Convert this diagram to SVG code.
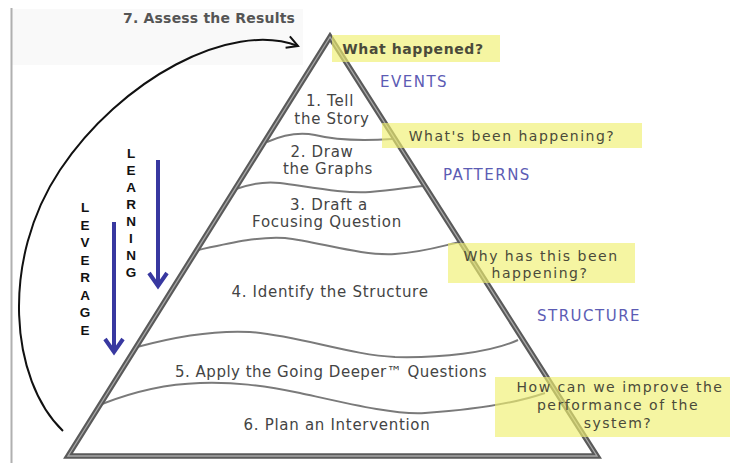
<svg xmlns="http://www.w3.org/2000/svg" width="730" height="463" viewBox="0 0 730 463">
<defs>
<style>
.edge{fill:none;stroke:#5a5a5a;stroke-width:5.5;stroke-linejoin:miter}
.edgein{fill:none;stroke:#a8a8a8;stroke-width:1.3}
.wave{fill:none;stroke:#7a7a7a;stroke-width:2}
.step{font-family:"DejaVu Sans",sans-serif;font-size:15px;fill:#444;text-anchor:middle;letter-spacing:0.7px}
.q{font-family:"DejaVu Sans",sans-serif;font-size:14px;fill:#4a4a3a;text-anchor:middle;letter-spacing:1.5px}
.box{fill:#f0f070;fill-opacity:0.65}
.lvl{font-family:"DejaVu Sans",sans-serif;font-size:15px;fill:#5c5cb4;letter-spacing:1.5px}
.vert{font-family:"Liberation Sans",sans-serif;font-size:13.5px;font-weight:bold;fill:#111;text-anchor:middle}
.blue{fill:none;stroke:#3838a0;stroke-width:4}
</style>
<marker id="ah" markerUnits="userSpaceOnUse" markerWidth="16" markerHeight="16" refX="13" refY="8" orient="auto">
<path d="M2,2 L13,8 L2,14" fill="none" stroke="#111" stroke-width="2"/>
</marker>
</defs>
<rect x="12" y="9" width="291" height="56" fill="#f9f9f9"/>
<line x1="11.5" y1="8" x2="11.5" y2="463" stroke="#b0b0b0" stroke-width="2"/>

<g id="connectors">
<path d="M63 431 C10 380, 0 260, 60 170 C120 80, 230 20, 298 46" fill="none" stroke="#111" stroke-width="2" marker-end="url(#ah)"/>
<g id="learning-arrow">
<line class="blue" x1="158" y1="160" x2="158" y2="285"/>
<polyline class="blue" points="149,273 158,286 167,273"/>
</g>
<g id="leverage-arrow">
<line class="blue" x1="114" y1="222" x2="114" y2="352"/>
<polyline class="blue" points="105,339 114,352 123,339"/>
</g>
</g>

<g id="pyramid">
<path class="wave" d="M267 142 C285 134, 300 132, 315 135 C335 140, 360 141, 392 139"/>
<path class="wave" d="M236 189 C250 184, 265 181, 280 183 C310 187, 345 194, 370 192 C395 190, 410 187, 424 186"/>
<path class="wave" d="M198 250 C230 243, 260 236, 285 238 C320 242, 360 256, 395 254 C425 252, 445 245, 460 242"/>
<path class="wave" d="M137 347 C170 338, 210 330, 250 332 C300 336, 350 355, 395 357 C440 358, 490 353, 518 340"/>
<path class="wave" d="M102 404 C130 393, 165 384, 200 383 C235 382, 260 385, 300 393 C350 404, 395 415, 425 413 C470 410, 510 405, 545 393"/>
<path class="edge" d="M330 37 L68 456 L597 456 Z"/>
<path class="edgein" d="M330 37 L68 456 L597 456 Z"/>
</g>

<g id="step1"><text class="step" x="330" y="106">1. Tell</text><text class="step" x="332" y="124">the Story</text></g>
<g id="step2"><text class="step" x="322" y="157">2. Draw</text><text class="step" x="328" y="174">the Graphs</text></g>
<g id="step3"><text class="step" x="329" y="210">3. Draft a</text><text class="step" x="327" y="227">Focusing Question</text></g>
<g id="step4"><text class="step" x="330" y="297">4. Identify the Structure</text></g>
<g id="step5"><text class="step" x="331" y="377" style="letter-spacing:0.5px">5. Apply the Going Deeper™ Questions</text></g>
<g id="step6"><text class="step" x="337" y="430">6. Plan an Intervention</text></g>

<g id="q1"><rect class="box" x="332" y="35" width="168" height="27"/><text class="q" x="413" y="54" style="font-weight:bold;letter-spacing:0.6px">What happened?</text></g>
<g id="q2"><rect class="box" x="382" y="123" width="260" height="25"/><text class="q" x="512" y="141">What's been happening?</text></g>
<g id="q3"><rect class="box" x="448" y="243" width="187" height="40"/><text class="q" x="541" y="261">Why has this been</text><text class="q" x="540" y="278">happening?</text></g>
<g id="q4"><rect class="box" x="495" y="377" width="235" height="60"/><text class="q" x="620" y="392">How can we improve the</text><text class="q" x="618" y="410">performance of the</text><text class="q" x="618" y="428">system?</text></g>

<g id="events"><text class="lvl" x="380" y="87">EVENTS</text></g>
<g id="patterns"><text class="lvl" x="443" y="180">PATTERNS</text></g>
<g id="structure"><text class="lvl" x="537" y="321">STRUCTURE</text></g>

<g id="assess"><text x="123" y="23" style="font-family:'DejaVu Sans',sans-serif;font-size:14px;font-weight:bold;fill:#555;letter-spacing:0.2px">7. Assess the Results</text></g>

<g id="learning">
<text class="vert" x="131" y="158">L</text><text class="vert" x="131" y="175">E</text><text class="vert" x="131" y="192">A</text><text class="vert" x="131" y="209">R</text><text class="vert" x="131" y="226">N</text><text class="vert" x="131" y="243">I</text><text class="vert" x="131" y="260">N</text><text class="vert" x="131" y="277">G</text>
</g>
<g id="leverage">
<text class="vert" x="85" y="212">L</text><text class="vert" x="85" y="229.5">E</text><text class="vert" x="85" y="247">V</text><text class="vert" x="85" y="264.5">E</text><text class="vert" x="85" y="282">R</text><text class="vert" x="85" y="299.5">A</text><text class="vert" x="85" y="317">G</text><text class="vert" x="85" y="334.5">E</text>
</g>
</svg>
